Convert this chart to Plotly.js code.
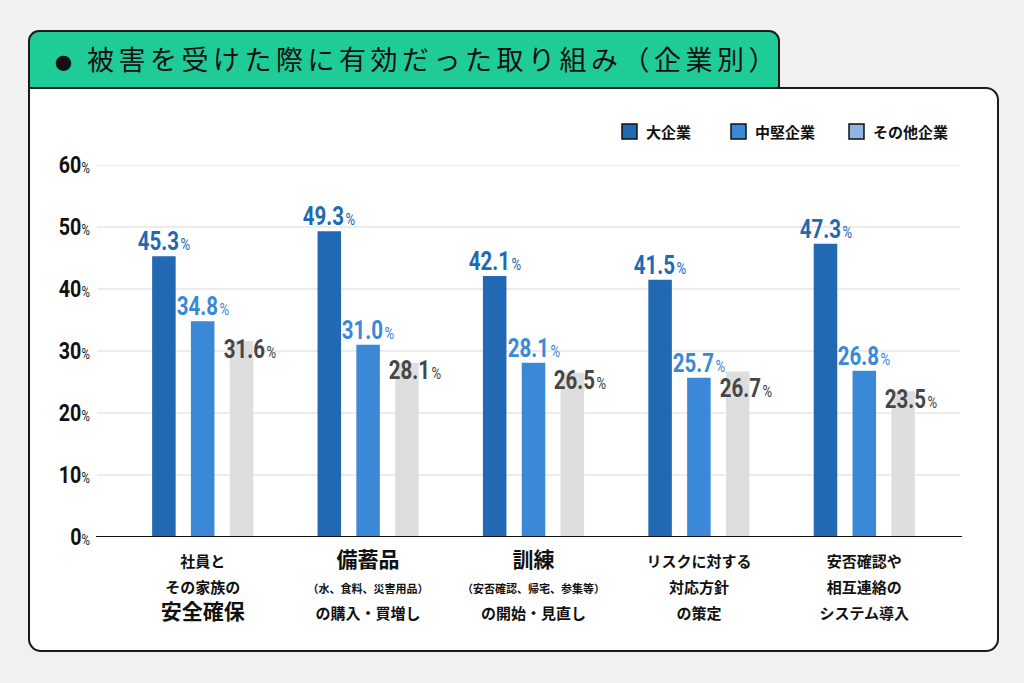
<!DOCTYPE html>
<html lang="ja">
<head>
<meta charset="utf-8">
<title>被害を受けた際に有効だった取り組み（企業別）</title>
<script src="https://cdn.plot.ly/plotly-3.0.1.min.js"></script>
<style>
  html, body { margin: 0; padding: 0; background: #f1f1f1; }
  #wrap  { position: relative; width: 1024px; height: 683px; overflow: hidden; }
  /* green title tab + white rounded panel drawn behind the chart */
  #tab   { position: absolute; left: 28px; top: 30px; width: 752px; height: 70px;
           background: #1fcc98; border: 2px solid #1a1a1a; border-radius: 11px 11px 0 0; box-sizing: border-box; }
  #panel { position: absolute; left: 28px; top: 87px; width: 971px; height: 565px;
           background: #ffffff; border: 2px solid #1a1a1a; border-radius: 0 13px 13px 13px; box-sizing: border-box; }
  #chart { position: absolute; left: 0; top: 0; width: 1024px; height: 683px; }
</style>
</head>
<body>
<div id="wrap">
  <div id="tab"></div>
  <div id="panel"></div>
  <div id="chart"></div>
</div>
<script>
'use strict';

/* ============================================================
   DATA
   ============================================================ */
var categories = ['安全確保', '備蓄品', '訓練', '対応方針', 'システム導入'];
var catLabels  = [
  '<span style="font-size:15px">社員と</span><br><span style="font-size:15px">その家族の</span><br><span style="font-size:21px">安全確保</span>',
  '<span style="font-size:21px">備蓄品</span><br><span style="font-size:11px">（水、食料、災害用品）</span><br><span style="font-size:15px">の購入・買増し</span>',
  '<span style="font-size:21px">訓練</span><br><span style="font-size:11px">（安否確認、帰宅、参集等）</span><br><span style="font-size:15px">の開始・見直し</span>',
  '<span style="font-size:15px">リスクに対する</span><br><span style="font-size:15px">対応方針</span><br><span style="font-size:15px">の策定</span>',
  '<span style="font-size:15px">安否確認や</span><br><span style="font-size:15px">相互連絡の</span><br><span style="font-size:15px">システム導入</span>'
];
var seriesNames = ['大企業', '中堅企業', 'その他企業'];
var largeCo   = [45.3, 49.3, 42.1, 41.5, 47.3];
var midCo     = [34.8, 31.0, 28.1, 25.7, 26.8];
var otherCo   = [31.6, 28.1, 26.5, 26.7, 23.5];
var yTicks    = [0, 10, 20, 30, 40, 50, 60];

/* ============================================================
   STYLE
   ============================================================ */
var barColors    = ['#2169b3', '#3b89d6', '#dedede'];
var labelColors  = ['#2169b3', '#3b89d6', '#464646'];
var swatchColors = ['#2169b3', '#3b89d6', '#8fb5e0'];
var NUM_FONT = 'Roboto, "Liberation Sans", sans-serif';
var JP_FONT  = '"Noto Sans CJK JP", "Noto Sans", sans-serif';
var SQUEEZE  = 0.82;   // no condensed face installed -> squeeze numbers
var PCT      = '<span style="font-size:7px"> </span><span style="font-size:16px">%</span>';

/* plot area in page pixels */
var L = 120, R = 947, T = 165, B = 537;
function px(x) { return (x - L) / (R - L); }
function py(y) { return (B - y) / (B - T); }

/* ============================================================
   TRACES
   ============================================================ */
var allSeries = [largeCo, midCo, otherCo];
var traces = allSeries.map(function (vals, i) {
  return {
    type: 'bar', name: seriesNames[i],
    x: categories, y: vals,
    marker: { color: barColors[i] },
    showlegend: false, hoverinfo: 'x+y'
  };
});

/* value labels */
var annotations = [];
var slot = 38.8;
allSeries.forEach(function (vals, i) {
  vals.forEach(function (v, k) {
    var grey = (i === 2);
    /* grey label sits on the bar top; drop it lower when it would hit the mid label */
    var dy = grey ? (v > midCo[k] ? -17 : -8) : -2;
    annotations.push({
      x: categories[k], y: v, xref: 'x', yref: 'y',
      text: '<b>' + v.toFixed(1) + '</b>' + PCT,
      showarrow: false,
      xshift: (i - 1) * slot + (grey ? 8 : 0),
      yanchor: grey ? 'middle' : 'bottom',
      yshift: dy,
      font: { family: NUM_FONT, size: 25, color: labelColors[i] }
    });
  });
});
var nValueLabels = annotations.length;

/* y tick labels (as annotations so they can be squeezed too) */
yTicks.forEach(function (t) {
  annotations.push({
    xref: 'paper', yref: 'y', x: 0, y: t,
    xanchor: 'right', yanchor: 'middle', xshift: -28, showarrow: false,
    text: '<b>' + t + '</b><span style="font-size:14px">%</span>',
    font: { family: NUM_FONT, size: 24, color: '#111' }
  });
});
var nTickLabels = yTicks.length;

/* hand-made legend (swatch colours differ from bars) */
var shapes = [];
var legendX = [622, 731, 849];
seriesNames.forEach(function (name, i) {
  shapes.push({
    type: 'rect', xref: 'paper', yref: 'paper',
    x0: px(legendX[i]), x1: px(legendX[i] + 15), y0: py(139), y1: py(124),
    fillcolor: swatchColors[i], line: { color: '#111', width: 1.5 }
  });
  annotations.push({
    xref: 'paper', yref: 'paper', x: px(legendX[i] + 22), y: py(131.5),
    xanchor: 'left', yanchor: 'middle', showarrow: false,
    text: '<b>' + name + '</b>',
    font: { family: JP_FONT, size: 15, color: '#111' }
  });
});

/* grid lines + baseline */
yTicks.forEach(function (t) {
  if (t === 0) return;
  shapes.push({
    type: 'line', xref: 'paper', yref: 'y', layer: 'below',
    x0: px(97), x1: px(960), y0: t, y1: t,
    line: { color: '#e6e6e6', width: 1.5 }
  });
});
shapes.push({
  type: 'line', xref: 'paper', yref: 'y', layer: 'above',
  x0: px(96), x1: px(962), y0: 0, y1: 0,
  line: { color: '#111', width: 2 }
});

/* ============================================================
   LAYOUT
   ============================================================ */
var layout = {
  width: 1024, height: 683,
  paper_bgcolor: 'rgba(0,0,0,0)', plot_bgcolor: 'rgba(0,0,0,0)',
  margin: { l: L, r: 1024 - R, t: T, b: 683 - B, pad: 0 },
  font: { family: JP_FONT, color: '#111' },
  title: {
    text: '<span style="font-size:17px">●</span>&nbsp;被害を受けた際に有効だった取り組み（企業別）',
    x: 55 / 1024, xanchor: 'left', xref: 'container',
    y: 1 - 61 / 683, yanchor: 'middle', yref: 'container',
    font: { family: JP_FONT, size: 27, color: '#111' }
  },
  barmode: 'group', bargap: 0.296, bargroupgap: 0.394,
  showlegend: false,
  xaxis: {
    type: 'category', showgrid: false, zeroline: false, showline: false,
    tickvals: categories, ticktext: catLabels,
    ticks: '', ticklabelstandoff: 9,
    tickfont: { family: JP_FONT, size: 20, color: '#111', weight: 'bold' },
    fixedrange: true
  },
  yaxis: {
    range: [0, 60], showgrid: false, zeroline: false, showline: false,
    showticklabels: false, ticks: '',
    fixedrange: true
  },
  shapes: shapes,
  annotations: annotations
};

/* squeeze the numeric labels horizontally to mimic a condensed face,
   and open up the title's letter spacing */
function finishText() {
  document.querySelectorAll('#chart g.annotation').forEach(function (g) {
    var idx  = +g.getAttribute('data-index');
    var text = g.querySelector('text.annotation-text');
    if (!text || idx >= nValueLabels + nTickLabels) return;
    text.style.transformBox    = 'fill-box';
    text.style.transformOrigin = idx < nValueLabels ? 'center' : 'right center';
    text.style.transform       = 'scaleX(' + SQUEEZE + ')';
  });
  var title = document.querySelector('#chart .gtitle');
  if (title) title.style.letterSpacing = '4.5px';
}

Plotly.newPlot('chart', traces, layout, { displayModeBar: false, staticPlot: true })
  .then(finishText);
</script>
</body>
</html>
